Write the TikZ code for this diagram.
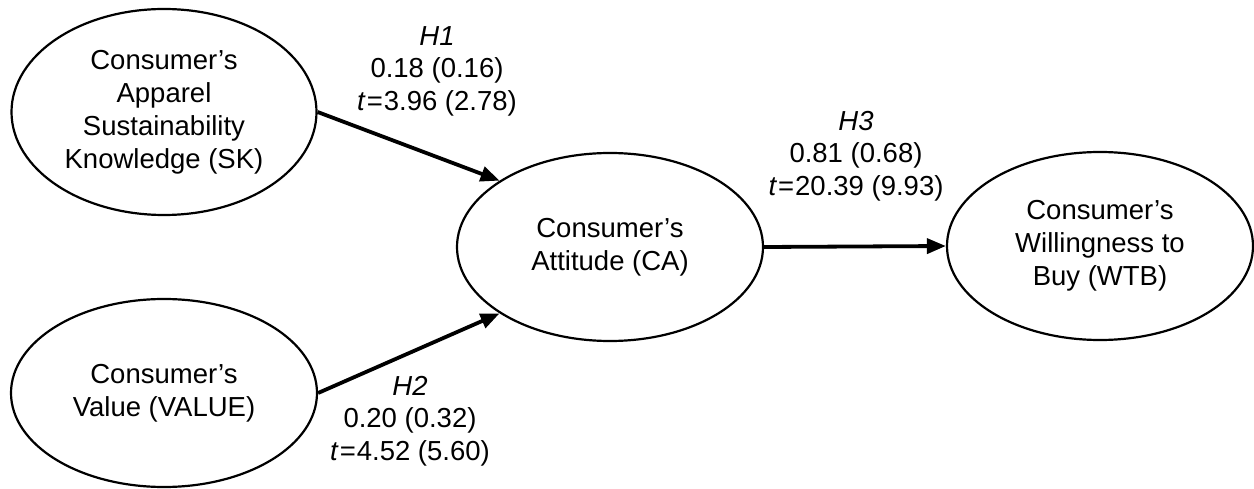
\documentclass[tikz,border=0pt]{standalone}
\usepackage{fontspec}
\setmainfont{Liberation Sans}
\usetikzlibrary{shapes.geometric,arrows.meta}
\begin{document}
\begin{tikzpicture}[x=1pt,y=-1pt,
  construct/.style={draw,ellipse,line width=2.2pt,minimum width=305pt,minimum height=206pt,inner sep=0pt,align=center,font=\fontsize{27.5}{33}\selectfont},
  small/.style={minimum width=306pt,minimum height=188pt},
  path/.style={line width=3.8pt,-{Triangle[length=19pt,width=15pt]}},
  est/.style={align=center,font=\fontsize{27.5}{32.5}\selectfont}]
\useasboundingbox (0,0) rectangle (1254,489);
\node[construct] (SK) at (164,112) {Consumer’s\\Apparel\\Sustainability\\Knowledge (SK)};
\node[construct,small] (VALUE) at (164,393) {Consumer’s\\Value (VALUE)};
\node[construct,small] (CA) at (610,247) {Consumer’s\\Attitude (CA)};
\node[construct,small] (WTB) at (1100,246) {Consumer’s\\Willingness to\\Buy (WTB)};
\draw[path] (SK.east) -- (CA.149);
\draw[path] (VALUE.east) -- (CA.211);
\draw[path] (CA.east) -- (WTB.west);
\node[est] (h1) at (437,71) {\textit{H1}\\0.18 (0.16)\\\textit{t}\kern1pt=\kern1pt3.96 (2.78)};
\node[est] (h2) at (410,421) {\textit{H2}\\0.20 (0.32)\\\textit{t}\kern1pt=\kern1pt4.52 (5.60)};
\node[est] (h3) at (856,156) {\textit{H3}\\0.81 (0.68)\\\textit{t}\kern1pt=\kern1pt20.39 (9.93)};
\end{tikzpicture}
\end{document}
